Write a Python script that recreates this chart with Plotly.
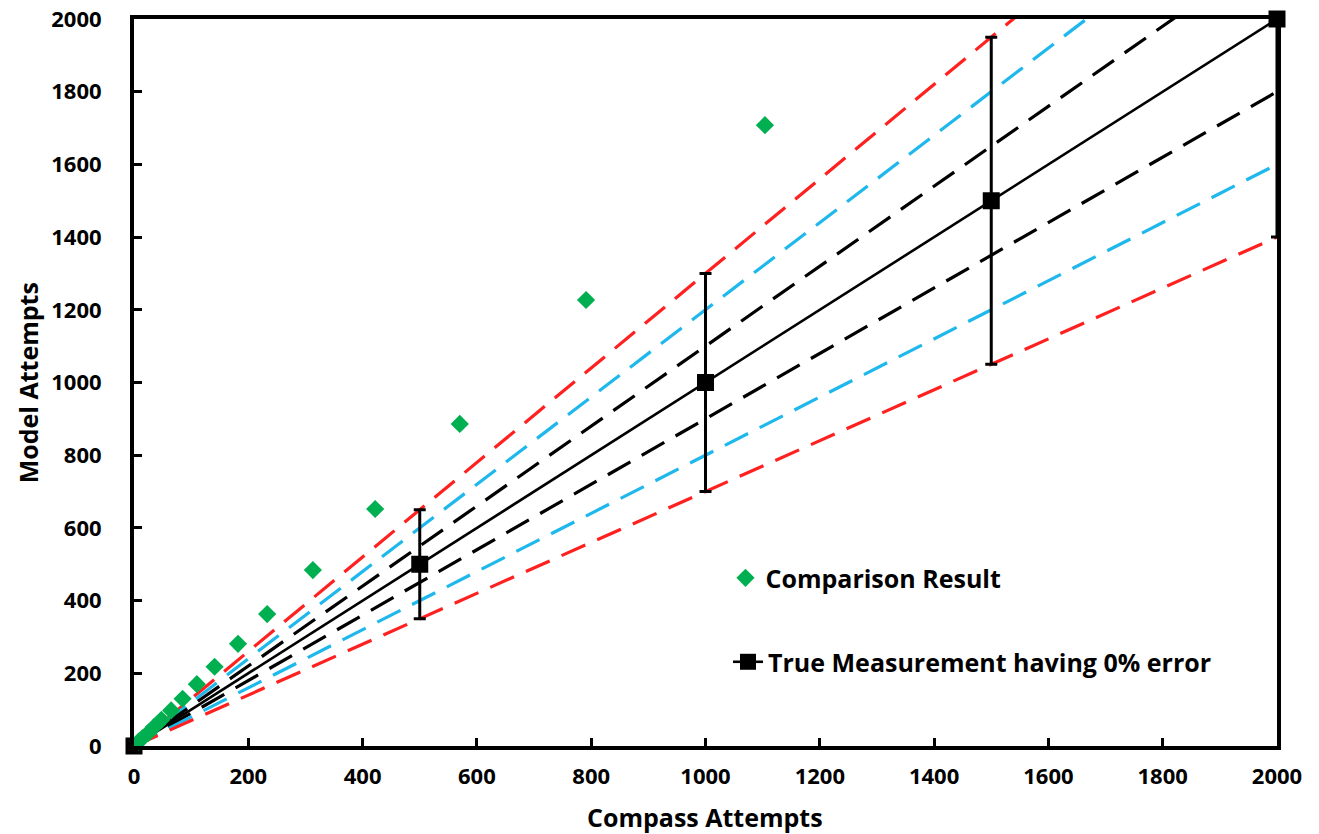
import plotly.graph_objects as go

# Data
comp_x = [1104, 791, 570, 422, 313, 233, 182, 141, 110, 85, 65, 48, 35, 25, 15, 8]
comp_y = [1708, 1227, 886, 652, 484, 363, 281, 218, 170, 130, 98, 72, 52, 36, 22, 12]

true_x = [0, 500, 1000, 1500, 2000]
true_y = [0, 500, 1000, 1500, 2000]
err_plus = [0, 150, 300, 450, 0]
err_minus = [0, 150, 300, 450, 600]

band_x = [0, 2000]
band_factors = [1.3, 1.2, 1.1, 0.9, 0.8, 0.7]
band_colors = ["#FF2020", "#1FB8EC", "#000000", "#000000", "#1FB8EC", "#FF2020"]

FONT = "Open Sans"
fig = go.Figure()

for k, c in zip(band_factors, band_colors):
    fig.add_trace(go.Scatter(x=band_x, y=[k * v for v in band_x], mode="lines",
                             line=dict(color=c, width=3.2, dash="26px,13px"),
                             showlegend=False, hoverinfo="skip"))

# error bars (clipped)
fig.add_trace(go.Scatter(x=true_x, y=true_y, mode="markers",
                         marker=dict(size=1, color="rgba(0,0,0,0)"),
                         error_y=dict(type="data", symmetric=False, array=err_plus,
                                      arrayminus=err_minus, color="black",
                                      thickness=3, width=6),
                         showlegend=False, hoverinfo="skip"))

fig.add_trace(go.Scatter(x=true_x, y=true_y, mode="lines+markers",
                         name="True Measurement having 0% error",
                         line=dict(color="black", width=2.6),
                         marker=dict(symbol="square", size=17, color="black"),
                         cliponaxis=False, legend="legend2"))

fig.add_trace(go.Scatter(x=comp_x, y=comp_y, mode="markers",
                         name="Comparison Result",
                         marker=dict(symbol="diamond", size=14, color="#00B050"),
                         cliponaxis=False, legend="legend"))

axis_common = dict(
    showline=True, linewidth=4, linecolor="black", mirror=True,
    ticks="inside", ticklen=8, tickwidth=2.5, tickcolor="black",
    showgrid=False, zeroline=False, range=[0, 2000], dtick=200,
    automargin=False,
    tickfont=dict(family=FONT, size=22, color="black", weight="bold"),
)

title_font = dict(family=FONT, size=25, color="black", weight="bold")

fig.update_layout(
    width=1319, height=834,
    margin=dict(l=134, r=42, t=19, b=88),
    paper_bgcolor="white", plot_bgcolor="white",
    xaxis=dict(**axis_common, ticklabelstandoff=8),
    yaxis=dict(**axis_common, ticklabelstandoff=24),
    legend=dict(x=0.5175, y=0.231, xanchor="left", yanchor="middle",
                bgcolor="rgba(0,0,0,0)", font=title_font),
    legend2=dict(x=0.5197, y=0.1155, xanchor="left", yanchor="middle",
                 bgcolor="rgba(0,0,0,0)", font=title_font),
    annotations=[
        dict(text="Compass Attempts", x=0.4996, y=-0.097, xref="paper", yref="paper",
             xanchor="center", yanchor="middle", showarrow=False, font=title_font),
        dict(text="Model Attempts", x=-0.0927, y=0.499, xref="paper", yref="paper",
             xanchor="center", yanchor="middle", showarrow=False, textangle=-90,
             font=title_font),
    ],
)

fig.write_html("out.html")
